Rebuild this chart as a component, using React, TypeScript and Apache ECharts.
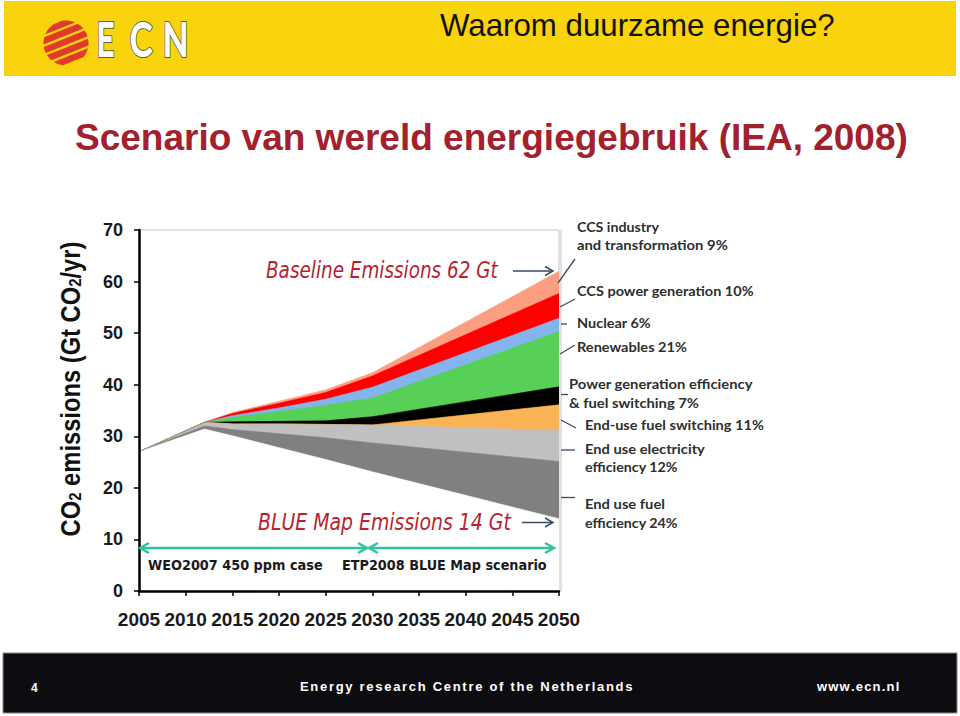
import React, { useEffect, useRef } from 'react';
import * as echarts from 'echarts';

// ---------- data (Gt CO2 / yr) ----------
const years = [2005, 2012, 2015, 2020, 2025, 2030, 2050];
// boundary lines from bottom (BLUE Map emissions) to top (Baseline emissions)
const blueMap = [27, 31.4, 30.1, 27.8, 25.5, 23.1, 14.0];
const endUseFuelTop = [27, 32.0, 31.3, 30.5, 29.7, 28.7, 25.1];
const endUseElecTop = [27, 32.7, 32.4, 32.4, 32.3, 32.2, 31.1];
const fuelSwitchTop = [27, 32.7, 32.4, 32.4, 32.3, 32.2, 36.1];
const powerEffTop = [27, 32.7, 32.8, 32.9, 33.0, 33.8, 39.6];
const renewablesTop = [27, 32.7, 33.6, 34.8, 36.0, 37.4, 50.3];
const nuclearTop = [27, 32.7, 34.0, 35.5, 37.2, 39.5, 52.9];
const ccsPowerTop = [27, 32.7, 34.4, 36.4, 38.5, 41.7, 57.7];
const baseline = [27, 32.7, 34.6, 36.8, 39.0, 42.3, 62.0];

const bandNames = [
  'End use fuel efficiency 24%',
  'End use electricity efficiency 12%',
  'End-use fuel switching 11%',
  'Power generation efficiency & fuel switching 7%',
  'Renewables 21%',
  'Nuclear 6%',
  'CCS power generation 10%',
  'CCS industry and transformation 9%',
];
const bandTops = [endUseFuelTop, endUseElecTop, fuelSwitchTop, powerEffTop, renewablesTop, nuclearTop, ccsPowerTop, baseline];
const bandColors = ['#808080', '#c0c0c0', '#fab455', '#000000', '#58d058', '#84b4ec', '#ff0000', '#fb9f80'];

// right-hand labels: [text, left x, center y, target width]
const sideLabels: [string, number, number, number][] = [
  ['CCS industry', 577, 227, 82],
  ['and transformation 9%', 577, 245, 151],
  ['CCS power generation 10%', 577, 291, 177],
  ['Nuclear 6%', 577, 322.5, 74],
  ['Renewables 21%', 577, 346.5, 110],
  ['Power generation efficiency', 569, 383.5, 184],
  ['& fuel switching 7%', 569, 403, 130],
  ['End-use fuel switching 11%', 585, 424.5, 179],
  ['End use electricity', 585, 449, 120],
  ['efficiency 12%', 585, 467, 93],
  ['End use fuel', 585, 504, 80],
  ['efficiency 24%', 585, 523, 93],
];
const leaderLines: [number, number, number, number][] = [
  [558, 283, 575, 259],
  [560, 307, 575, 299],
  [561, 324, 567, 324],
  [560, 354, 575, 345],
  [561, 394.5, 568, 394.5],
  [561, 420, 576, 428],
  [561, 450, 575, 450],
  [561, 497.5, 575, 497.5],
];

const SANS = '"Liberation Sans", Arial, Helvetica, sans-serif';
const VERD = '"DejaVu Sans", Verdana, sans-serif';
const CAL = 'Lato, "Open Sans", sans-serif';

let _ctx: CanvasRenderingContext2D | null = null;
function measure(text: string, font: string): number {
  if (!_ctx) _ctx = document.createElement('canvas').getContext('2d');
  _ctx!.font = font;
  return _ctx!.measureText(text).width;
}

function fitText(o: {
  text: string; x: number; y: number; width: number; size: number; family: string;
  weight?: string; fstyle?: string; fill: string; align?: string; stroke?: string; lineWidth?: number; z?: number;
}) {
  const weight = o.weight || 'normal';
  const fstyle = o.fstyle || 'normal';
  const nat = measure(o.text, `${fstyle} ${weight} ${o.size}px ${o.family}`);
  const style: any = {
    text: o.text, fontSize: o.size, fontFamily: o.family, fontWeight: weight, fontStyle: fstyle,
    fill: o.fill, align: o.align || 'left', verticalAlign: 'middle',
  };
  if (o.stroke) { style.stroke = o.stroke; style.lineWidth = o.lineWidth || 1; }
  return { type: 'text', x: o.x, y: o.y, scaleX: nat > 0 ? o.width / nat : 1, z: o.z ?? 10, style };
}

function spacedText(str: string, x: number, y: number, size: number, family: string, spacing: number, fill: string) {
  const font = `normal bold ${size}px ${family}`;
  const out: any[] = [];
  let cx = x;
  for (const ch of str) {
    if (ch !== ' ') out.push({ type: 'text', x: cx, y, z: 10, style: { text: ch, fontSize: size, fontFamily: family, fontWeight: 'bold', fill, align: 'left', verticalAlign: 'middle' } });
    cx += measure(ch, font) + spacing;
  }
  return out;
}

function stripe(cx: number, cy: number, r: number, ang: number, v1: number, v2: number): number[][] {
  const d = [Math.cos(ang), Math.sin(ang)];
  const n = [-Math.sin(ang), Math.cos(ang)];
  const pts: number[][] = [];
  const N = 10;
  for (let k = 0; k <= N; k++) {
    const v = v1 + ((v2 - v1) * k) / N;
    const u = Math.sqrt(Math.max(0, r * r - v * v));
    pts.push([cx + u * d[0] + v * n[0], cy + u * d[1] + v * n[1]]);
  }
  for (let k = N; k >= 0; k--) {
    const v = v1 + ((v2 - v1) * k) / N;
    const u = -Math.sqrt(Math.max(0, r * r - v * v));
    pts.push([cx + u * d[0] + v * n[0], cy + u * d[1] + v * n[1]]);
  }
  return pts;
}

export default function App() {
  const ref = useRef<HTMLDivElement>(null);
  useEffect(() => {
    if (!ref.current) return;
    const chart = echarts.init(ref.current, undefined, { renderer: 'svg' });

    // Areas are painted from the top boundary down; each fills to the axis and the
    // next (lower) boundary covers it, so each band shows between its two boundaries.
    const series: any[] = [];
    for (let k = bandTops.length - 1; k >= 0; k--) {
      series.push({
        name: bandNames[k], type: 'line', symbol: 'none', z: 2,
        data: years.map((y, i) => [y, bandTops[k][i]]),
        lineStyle: { width: 0.6, color: bandColors[k] },
        itemStyle: { color: bandColors[k] },
        areaStyle: { color: bandColors[k], opacity: 1 },
      });
    }
    series.push({
      name: 'BLUE Map Emissions', type: 'line', symbol: 'none', z: 2, silent: true,
      data: years.map((y, i) => [y, blueMap[i]]),
      lineStyle: { width: 0.6, color: '#ffffff' },
      itemStyle: { color: '#ffffff' },
      areaStyle: { color: '#ffffff', opacity: 1 },
    });

    const arrowHead = (x: number, y: number, dir: number, len: number, half: number, color: string, w: number) => ({
      type: 'polyline', z: 10,
      shape: { points: [[x - dir * len, y - half], [x, y], [x - dir * len, y + half]] },
      style: { stroke: color, lineWidth: w, fill: null },
    });

    const teal = '#33c29e';
    const slate = '#3a4b66';
    const darkRed = '#b8222f';

    const logoStripes = [
      [-22, -15.8], [-13.4, -7.0], [-4.6, 1.8], [4.2, 10.6], [13.0, 19.6],
    ].map(([a, b]) => ({
      type: 'polygon', z: 10,
      shape: { points: stripe(66, 43, 22.5, -0.38, a, b) },
      style: { fill: '#e23a2a' },
    }));

    const logoLetters: [string, number, number][] = [['E', 97, 17], ['C', 130, 22], ['N', 163, 25]];
    const letterEls: any[] = [];
    for (const [t, x, w] of logoLetters) {
      letterEls.push(fitText({ text: t, x, y: 38.5, width: w, size: 46, family: CAL, fill: '#ffffff', stroke: '#5f5c45', lineWidth: 4.2, z: 10 }));
      letterEls.push(fitText({ text: t, x, y: 38.5, width: w, size: 46, family: CAL, fill: '#ffffff', stroke: '#ffffff', lineWidth: 2.2, z: 11 }));
    }

    const yTitleSize = 27;
    const yTitleFont = `normal bold ${yTitleSize}px ${SANS}`;
    const subFont = `normal bold 17px ${SANS}`;
    const yTitleNat = measure('CO emissions (Gt CO/yr)', yTitleFont) + 2 * measure('2', subFont);

    const graphic: any[] = [
      // header band
      { type: 'rect', z: 1, shape: { x: 4, y: 1, width: 952, height: 75 }, style: { fill: '#f9d30c' } },
      ...logoStripes,
      ...letterEls,
      fitText({ text: 'Waarom duurzame energie?', x: 440, y: 26, width: 395, size: 31, family: SANS, fill: '#111111' }),
      // title
      fitText({ text: 'Scenario van wereld energiegebruik (IEA, 2008)', x: 75, y: 137, width: 833, size: 37, family: SANS, weight: 'bold', fill: '#a3202d' }),
      // y axis title
      {
        type: 'text', x: 70, y: 389, rotation: Math.PI / 2, scaleX: 295 / yTitleNat, z: 10,
        style: {
          text: 'CO{s|2} emissions (Gt CO{s|2}/yr)', fontSize: yTitleSize, fontFamily: SANS, fontWeight: 'bold',
          fill: '#111111', align: 'center', verticalAlign: 'middle',
          rich: { s: { fontSize: 17, fontFamily: SANS, fontWeight: 'bold', fill: '#111111', verticalAlign: 'bottom' } },
        },
      },
      // light plot-area frame on the right
      { type: 'line', z: 3, shape: { x1: 561, y1: 229.5, x2: 561, y2: 591 }, style: { stroke: '#c4c4c4', lineWidth: 1 } },
      // annotations inside the chart
      fitText({ text: 'Baseline Emissions 62 Gt', x: 266, y: 270.5, width: 232, size: 23, family: VERD, fstyle: 'italic', fill: darkRed }),
      { type: 'line', z: 10, shape: { x1: 513, y1: 271, x2: 552, y2: 271 }, style: { stroke: slate, lineWidth: 1.5 } },
      arrowHead(553, 271, 1, 8, 4.5, slate, 1.5),
      fitText({ text: 'BLUE Map Emissions 14 Gt', x: 258, y: 522, width: 253, size: 23, family: VERD, fstyle: 'italic', fill: darkRed }),
      { type: 'line', z: 10, shape: { x1: 522, y1: 522.5, x2: 552, y2: 522.5 }, style: { stroke: slate, lineWidth: 1.5 } },
      arrowHead(553, 522.5, 1, 8, 4.5, slate, 1.5),
      // scenario arrows
      { type: 'line', z: 10, shape: { x1: 141, y1: 548, x2: 366, y2: 548 }, style: { stroke: teal, lineWidth: 2.5 } },
      arrowHead(140, 548, -1, 9, 5, teal, 2.5),
      arrowHead(367, 548, 1, 9, 5, teal, 2.5),
      { type: 'line', z: 10, shape: { x1: 370, y1: 548, x2: 553, y2: 548 }, style: { stroke: teal, lineWidth: 2.5 } },
      arrowHead(369, 548, -1, 9, 5, teal, 2.5),
      arrowHead(554, 548, 1, 9, 5, teal, 2.5),
      fitText({ text: 'WEO2007 450 ppm case', x: 148, y: 565.5, width: 175, size: 14, family: VERD, weight: 'bold', fill: '#1a1a1a' }),
      fitText({ text: 'ETP2008 BLUE Map scenario', x: 342, y: 565.5, width: 205, size: 14, family: VERD, weight: 'bold', fill: '#1a1a1a' }),
      // side labels + leader lines
      ...sideLabels.map(([t, x, y, w]) => fitText({ text: t, x, y, width: w, size: 13.5, family: CAL, weight: 'bold', fill: '#2e2e2e' })),
      ...leaderLines.map(([x1, y1, x2, y2]) => ({ type: 'line', z: 10, shape: { x1, y1, x2, y2 }, style: { stroke: slate, lineWidth: 1.3 } })),
      // footer
      { type: 'rect', z: 1, shape: { x: 3, y: 653, width: 954, height: 60 }, style: { fill: '#0d0d11', stroke: '#8a8a8a', lineWidth: 1 } },
      { type: 'text', x: 31, y: 688, z: 10, style: { text: '4', fontSize: 12, fontWeight: 'bold', fontFamily: SANS, fill: '#ffffff', verticalAlign: 'middle' } },
      ...spacedText('Energy research Centre of the Netherlands', 300, 686, 13, SANS, 1.7, '#ffffff'),
      ...spacedText('www.ecn.nl', 817, 686, 13, SANS, 1.2, '#ffffff'),
    ];

    const option: any = {
      animation: false,
      backgroundColor: '#ffffff',
      grid: { left: 139, right: 401, top: 230, bottom: 125, show: true, borderColor: '#c4c4c4', borderWidth: 1 },
      xAxis: {
        type: 'value', min: 2005, max: 2050, interval: 5,
        axisLine: { show: true, onZero: false, lineStyle: { color: '#000', width: 2.5 } },
        axisTick: { show: true, length: 5, lineStyle: { color: '#000', width: 1.5 } },
        axisLabel: { formatter: (v: number) => String(v), fontSize: 19, fontWeight: 'bold', fontFamily: SANS, color: '#1a1a1a', margin: 19 },
        splitLine: { show: false },
        z: 5,
      },
      yAxis: {
        type: 'value', min: 0, max: 70, interval: 10,
        axisLine: { show: true, lineStyle: { color: '#000', width: 2.5 } },
        axisTick: { show: true, length: 5, lineStyle: { color: '#000', width: 1.5 } },
        axisLabel: { fontSize: 18, fontWeight: 'bold', fontFamily: SANS, color: '#1a1a1a', margin: 16 },
        splitLine: { show: false },
        z: 5,
      },
      series,
      graphic,
    };
    chart.setOption(option);
    return () => chart.dispose();
  }, []);
  return <div ref={ref} style={{ position: 'fixed', left: 0, top: 0, width: 960, height: 716 }} />;
}
